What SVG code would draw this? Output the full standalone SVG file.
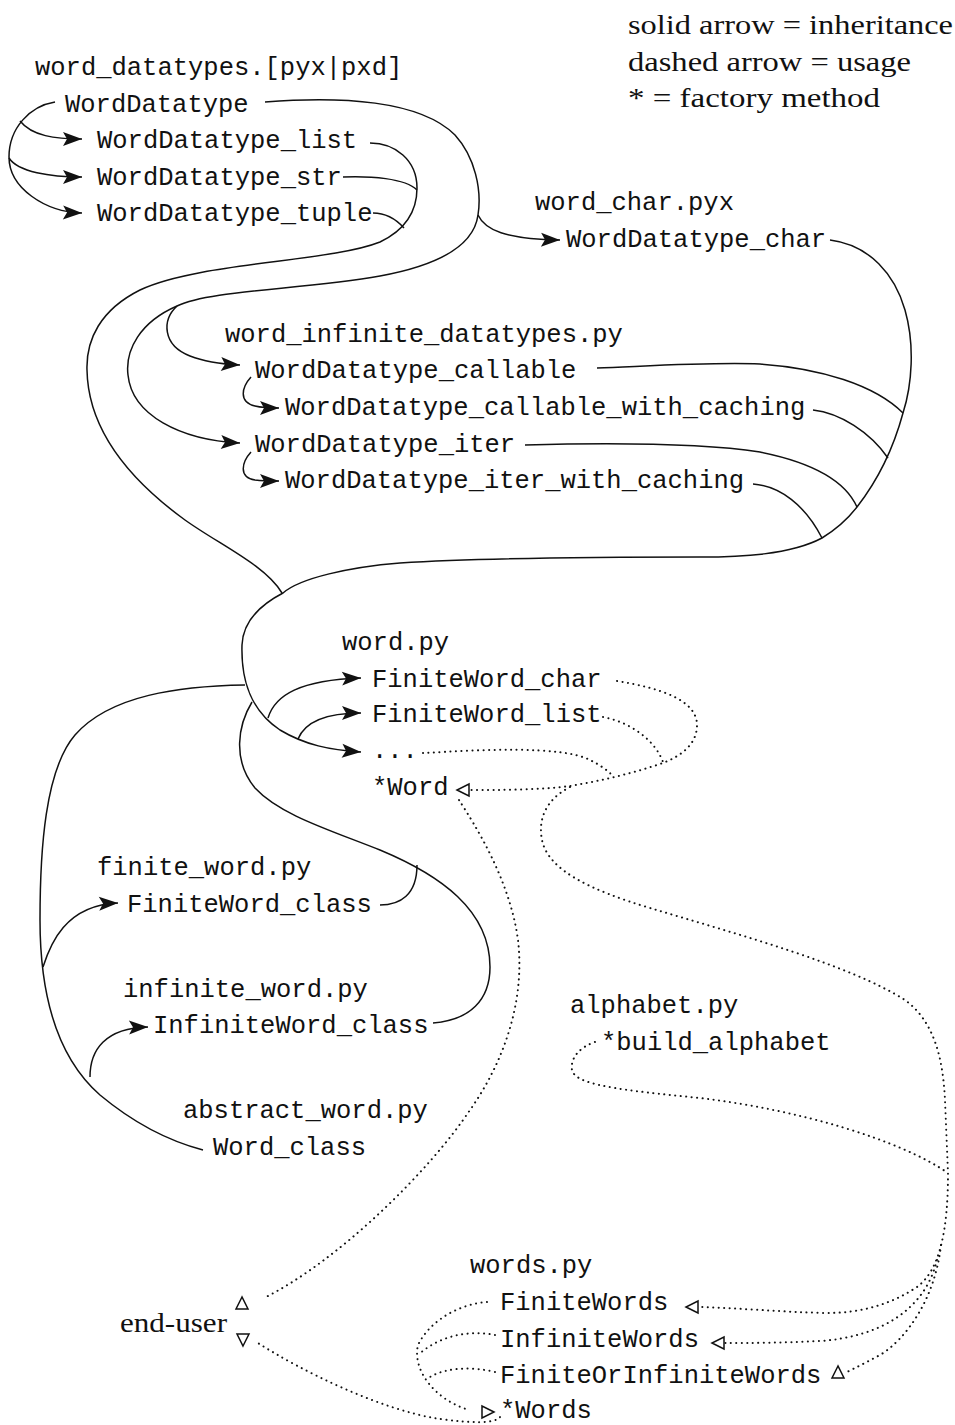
<svg xmlns="http://www.w3.org/2000/svg" xmlns:xlink="http://www.w3.org/1999/xlink" width="955" height="1425" viewBox="0 0 955 1425">
  <style>
    .mono { font-family: "Liberation Mono", "DejaVu Sans Mono", monospace; font-size: 25.5px; fill: #111; }
    .serif { font-family: "Liberation Serif", "DejaVu Serif", serif; font-size: 28px; fill: #111; }
    .inh { fill: none; stroke: #111; stroke-width: 1.5; marker-end: url(#ah); }
    .inh-plain { fill: none; stroke: #111; stroke-width: 1.5; }
    .use { fill: none; stroke: #111; stroke-width: 2; stroke-dasharray: 0.1 5.4; stroke-linecap: round; }
    .tri { fill: #fff; stroke: #111; stroke-width: 1.5; stroke-linejoin: miter; }
  </style>
  <defs>
    <marker id="ah" viewBox="-20 -8 21 16" refX="0" refY="0" markerWidth="21" markerHeight="16" markerUnits="userSpaceOnUse" orient="auto">
      <path d="M0,0 L-19,-7 L-15,0 L-19,7 Z" fill="#111"/>
    </marker>
    <path id="tri" class="tri" d="M0,0 L-12,-6 L-12,6 Z"/>
  </defs>
  <rect width="955" height="1425" fill="#fff"/>

  <!-- legend -->
  <g id="legend">
    <text class="serif" x="628" y="34" textLength="325" lengthAdjust="spacingAndGlyphs">solid arrow = inheritance</text>
    <text class="serif" x="628" y="71" textLength="283" lengthAdjust="spacingAndGlyphs">dashed arrow = usage</text>
    <text class="serif" x="628" y="107" textLength="252" lengthAdjust="spacingAndGlyphs">* = factory method</text>
  </g>

  <!-- connectors -->
  <g id="connectors">
    <!-- inheritance: word_datatypes -->
    <path class="inh" d="M55,102 C30,106 9,128 9,157 C9,188 45,212 82,213"/>
    <path class="inh" d="M20,121 C32,136 55,139 82,139"/>
    <path class="inh" d="M9,158 C18,172 50,177 82,177"/>
    <!-- list/str/tuple merged trunk down to word.py -->
    <path class="inh-plain" d="M370,143 C395,143 417,160 417,188 C417,212 405,230 380,242 C330,262 200,262 140,290 C100,310 86,340 87,370 C88,430 130,480 185,520 C220,545 265,565 282,593"/>
    <path class="inh-plain" d="M343,177 C370,176 405,178 417,190"/>
    <path class="inh-plain" d="M373,213 C385,213 395,218 404,228"/>
    <!-- WordDatatype trunk -->
    <path class="inh" d="M265,102 C340,96 420,100 455,135 C475,157 482,190 478,215 C474,245 440,265 380,276 C300,290 210,290 177,306 C140,322 125,350 128,375 C132,415 180,440 240,443"/>
    <path class="inh" d="M478,215 C485,230 505,239 560,240"/>
    <path class="inh" d="M177,306 C162,320 162,345 190,356 C205,362 220,364 240,365"/>
    <path class="inh" d="M251,377 C242,387 238,402 255,406 C263,408 270,408 279,408"/>
    <path class="inh" d="M251,452 C242,462 238,477 255,480 C263,481 270,481 279,481"/>
    <!-- right trunk from char / infinite datatypes to word.py -->
    <path class="inh" d="M830,240 C870,245 895,275 905,310 C915,345 912,385 903,413 C893,450 878,480 857,507 C847,520 835,530 822,538 C790,555 740,557 700,557 C600,557 480,558 400,563 C350,567 300,578 283,593 C258,606 243,622 242,645 C241,680 250,710 280,730 C305,745 330,750 361,752"/>
    <path class="inh-plain" d="M597,368 C650,366 710,362 760,364 C820,368 875,385 903,413"/>
    <path class="inh-plain" d="M813,410 C840,413 870,432 888,458"/>
    <path class="inh-plain" d="M525,445 C600,443 700,443 760,452 C810,462 845,480 857,507"/>
    <path class="inh-plain" d="M753,484 C780,486 805,505 822,538"/>
    <path class="inh" d="M268,718 C275,695 300,680 361,678"/>
    <path class="inh" d="M298,739 C305,722 325,713 361,713"/>
    <!-- abstract word trunk -->
    <path class="inh-plain" d="M245,685 C180,686 110,695 75,735 C45,770 40,850 40,920 C40,1000 60,1060 100,1095 C130,1120 165,1140 203,1150"/>
    <path class="inh" d="M43,967 C50,945 65,905 118,903"/>
    <path class="inh" d="M90,1077 C90,1050 105,1028 148,1027"/>
    <!-- finite/infinite word classes to word.py -->
    <path class="inh-plain" d="M252,702 C238,725 232,760 255,788 C280,815 330,830 380,850 C440,875 490,910 490,967 C490,1000 470,1020 433,1023"/>
    <path class="inh-plain" d="M380,905 C400,905 417,895 417,865"/>

    <!-- usage: word.py classes to *Word -->
    <path class="use" d="M617,681 C660,688 697,700 697,725 C697,745 680,757 660,764 C630,774 600,781 570,786 C540,790 500,790 470,790"/>
    <path class="use" d="M603,717 C630,722 655,740 663,762"/>
    <path class="use" d="M423,753 C480,750 560,745 590,760 C600,765 607,770 612,775"/>
    <!-- to words.py -->
    <path class="use" d="M570,787 C545,800 538,820 542,840 C548,870 590,890 650,908 C740,935 850,965 905,1000 C935,1022 943,1060 945,1100 L948,1173 C948,1230 940,1270 917,1287 C890,1305 860,1313 827,1313 C780,1312 740,1308 699,1307"/>
    <path class="use" d="M595,1042 C580,1047 570,1058 572,1070 C575,1085 620,1090 700,1098 C800,1110 900,1140 948,1173"/>
    <path class="use" d="M937,1260 C925,1310 880,1337 820,1341 C780,1343 750,1343 725,1343"/>
    <path class="use" d="M941,1245 C935,1300 905,1340 880,1355 C865,1363 855,1368 847,1372"/>
    <!-- end-user -->
    <path class="use" d="M459,800 C475,825 510,880 518,940 C525,1000 505,1060 470,1110 C430,1170 340,1260 264,1298"/>
    <path class="use" d="M500,1417 C495,1424 470,1423 440,1419 C380,1410 300,1370 258,1343"/>
    <!-- words.py internal -->
    <path class="use" d="M487,1302 C460,1304 430,1320 418,1345 C412,1370 435,1400 469,1410"/>
    <path class="use" d="M495,1335 C470,1330 440,1335 418,1355"/>
    <path class="use" d="M495,1372 C470,1366 445,1368 430,1377"/>

    <!-- open arrowheads -->
    <use xlink:href="#tri" transform="translate(457,790) rotate(180)"/>
    <use xlink:href="#tri" transform="translate(686,1307) rotate(180)"/>
    <use xlink:href="#tri" transform="translate(712,1343) rotate(180)"/>
    <use xlink:href="#tri" transform="translate(838,1366) rotate(-90)"/>
    <use xlink:href="#tri" transform="translate(242,1297) rotate(-90)"/>
    <use xlink:href="#tri" transform="translate(243,1346) rotate(90)"/>
    <use xlink:href="#tri" transform="translate(494,1412)"/>
  </g>

  <!-- nodes -->
  <g id="word_datatypes">
    <text class="mono" x="35" y="75">word_datatypes.[pyx|pxd]</text>
    <text class="mono" x="65" y="112">WordDatatype</text>
    <text class="mono" x="97" y="148">WordDatatype_list</text>
    <text class="mono" x="97" y="185">WordDatatype_str</text>
    <text class="mono" x="97" y="221">WordDatatype_tuple</text>
  </g>
  <g id="word_char">
    <text class="mono" x="535" y="210">word_char.pyx</text>
    <text class="mono" x="566" y="247">WordDatatype_char</text>
  </g>
  <g id="word_infinite_datatypes">
    <text class="mono" x="225" y="342">word_infinite_datatypes.py</text>
    <text class="mono" x="255" y="378">WordDatatype_callable</text>
    <text class="mono" x="285" y="415">WordDatatype_callable_with_caching</text>
    <text class="mono" x="255" y="452">WordDatatype_iter</text>
    <text class="mono" x="285" y="488">WordDatatype_iter_with_caching</text>
  </g>
  <g id="word">
    <text class="mono" x="342" y="650">word.py</text>
    <text class="mono" x="372" y="687">FiniteWord_char</text>
    <text class="mono" x="372" y="722">FiniteWord_list</text>
    <text class="mono" x="372" y="758">...</text>
    <text class="mono" x="372" y="795">*Word</text>
  </g>
  <g id="finite_word">
    <text class="mono" x="97" y="875">finite_word.py</text>
    <text class="mono" x="127" y="912">FiniteWord_class</text>
  </g>
  <g id="infinite_word">
    <text class="mono" x="123" y="997">infinite_word.py</text>
    <text class="mono" x="153" y="1033">InfiniteWord_class</text>
  </g>
  <g id="abstract_word">
    <text class="mono" x="183" y="1118">abstract_word.py</text>
    <text class="mono" x="213" y="1155">Word_class</text>
  </g>
  <g id="alphabet">
    <text class="mono" x="570" y="1013">alphabet.py</text>
    <text class="mono" x="601" y="1050">*build_alphabet</text>
  </g>
  <g id="words">
    <text class="mono" x="470" y="1273">words.py</text>
    <text class="mono" x="500" y="1310">FiniteWords</text>
    <text class="mono" x="500" y="1347">InfiniteWords</text>
    <text class="mono" x="500" y="1383">FiniteOrInfiniteWords</text>
    <text class="mono" x="500" y="1418">*Words</text>
  </g>
  <g id="end-user">
    <text class="serif" x="120" y="1332" textLength="107" lengthAdjust="spacingAndGlyphs">end-user</text>
  </g>
</svg>
